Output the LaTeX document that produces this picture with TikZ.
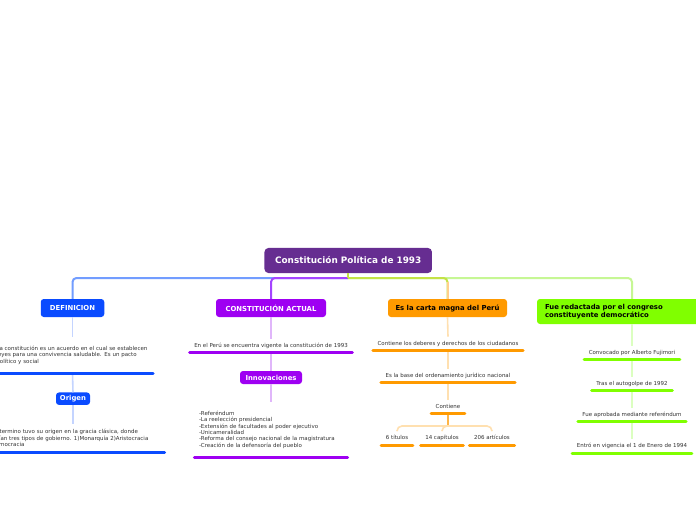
\documentclass[tikz,border=0pt]{standalone}
\usepackage{fontspec}
\setmainfont{DejaVu Sans}
\definecolor{rootc}{HTML}{662D91}
\definecolor{bluec}{HTML}{0A4BFF}
\definecolor{purc}{HTML}{9E00F2}
\definecolor{orc}{HTML}{FF9A00}
\definecolor{grc}{HTML}{80FF00}
\definecolor{blueln}{HTML}{729DFF}
\definecolor{purln}{HTML}{A444FF}
\definecolor{ygln}{HTML}{C4E246}
\definecolor{grln}{HTML}{C6F794}
\definecolor{orln}{HTML}{FFD08C}
\definecolor{bluep}{HTML}{C4D4FF}
\definecolor{purp}{HTML}{E0B6FA}
\definecolor{orp}{HTML}{FFE0B0}
\definecolor{orstem}{HTML}{FFB547}
\definecolor{grp}{HTML}{DBFFC0}
\definecolor{txt}{HTML}{333333}
\tikzset{
  head/.style={rounded corners=3bp, inner sep=0pt, font=\fontsize{6.9}{8}\selectfont\bfseries, text=white},
  leaf/.style={anchor=south, inner xsep=4.5bp, inner ysep=4bp, text height=4.2bp, text depth=1.3bp, font=\fontsize{5.5}{6.5}\selectfont, text=txt},
  para/.style={anchor=south, inner xsep=4.5bp, align=left, font=\fontsize{5.5}{6.5}\selectfont, text=txt},
  ul/.style={line width=3bp, line cap=round},
  conn/.style={line width=2bp},
  pale/.style={line width=1.6bp}
}
\begin{document}
\begin{tikzpicture}[x=1bp,y=-1bp]
\useasboundingbox (0,0) rectangle (696,520);
\clip (0,0) rectangle (696,520);
\fill[white] (0,0) rectangle (696,520);

% root
\node[rounded corners=4bp, fill=rootc, text=white, inner sep=0pt, minimum width=167.5bp, minimum height=25bp, font=\fontsize{8.9}{10}\selectfont\bfseries] (root) at (348.2,260.5) {Constitución Política de 1993};

% main headings
\node[head, fill=bluec, minimum width=63.5bp, minimum height=18bp] (def) at (72.5,308) {DEFINICION};
\node[head, fill=purc, minimum width=110bp, minimum height=18bp] (actual) at (271,308) {CONSTITUCIÓN ACTUAL};
\node[head, fill=orc, text=black, minimum width=119bp, minimum height=18bp] (carta) at (447.5,308) {Es la carta magna del Perú};
\node[head, fill=grc, text=black, text width=174bp, align=left, inner xsep=8bp, minimum height=25bp] (green) at (632,311.5) {Fue redactada por el congreso\\constituyente democrático};

% blue branch
\node[para, text width=152bp, inner ysep=8.7bp] (deftext) at (72.5,373.5) {La constitución es un acuerdo en el cual se establecen\\leyes para una convivencia saludable. Es un pacto\\político y social};
\node[head, fill=bluec, minimum width=34bp, minimum height=12.5bp] (origen) at (73,398.7) {Origen};
\node[para, text width=174bp, inner ysep=4.6bp] (origtext) at (73,452) {Este termino tuvo su origen en la gracia clásica, donde\\existían tres tipos de gobierno. 1)Monarquía 2)Aristocracia\\3)Democracia};

% purple branch
\node[leaf] (peru) at (271,352.5) {En el Perú se encuentra vigente la constitución de 1993};
\node[head, fill=purc, minimum width=62bp, minimum height=13bp] (innov) at (271,377.5) {Innovaciones};
\node[para, text width=144bp, inner ysep=8.2bp] (innovtext) at (271,457) {-Referéndum\\-La reelección presidencial\\-Extensión de facultades al poder ejecutivo\\-Unicameralidad\\-Reforma del consejo nacional de la magistratura\\-Creación de la defensoría del pueblo};

% orange branch
\node[leaf] (c1) at (448,350.5) {Contiene los deberes y derechos de los ciudadanos};
\node[leaf] (c2) at (448,382.5) {Es la base del ordenamiento jurídico nacional};
\node[leaf] (c3) at (448,413.5) {Contiene};
\node[leaf] (t1) at (397,445) {6 títulos};
\node[leaf] (t2) at (442,445) {14 capítulos};
\node[leaf] (t3) at (492,445) {206 artículos};
\coordinate (chub) at (448,426);

% green branch
\node[leaf] (g1) at (632,359.5) {Convocado por Alberto Fujimori};
\node[leaf] (g2) at (632,390.5) {Tras el autogolpe de 1992};
\node[leaf] (g3) at (632,421.5) {Fue aprobada mediante referéndum};
\node[leaf] (g4) at (632,453) {Entró en vigencia el 1 de Enero de 1994};

% main connectors
\coordinate (hub) at (348.2,278);
\draw[conn, blueln, rounded corners=4bp] (hub) -| (def.north);
\draw[conn, purln, rounded corners=4bp] (hub) -| (actual.north);
\draw[conn, grln, rounded corners=4bp] (hub) -| (green.north);
\draw[conn, ygln, rounded corners=4bp] (hub) -| (carta.north);
\draw[conn, orln] (carta.north) -- ++(0,-16.5);
\draw[conn, ygln] (root.south) -- (hub);

% branch connectors
\draw[pale, bluep] (def.south) -- (deftext.north);
\draw[pale, bluep] (deftext.south) -- (origen.north);
\draw[pale, bluep] (origen.south) -- (origtext.north);
\draw[pale, purp] (actual.south) -- (peru.north);
\draw[pale, purp] (peru.south) -- (innov.north);
\draw[pale, purp] (innov.south) -- (innovtext.north);
\draw[pale, orp] (carta.south) -- (c1.north);
\draw[pale, orp] (c1.south) -- (c2.north);
\draw[pale, orp] (c2.south) -- (c3.north);
\draw[pale, orstem] (c3.south) -- (chub);
\draw[pale, orp, rounded corners=5bp] (chub) -| (t1.north);
\draw[pale, orp, rounded corners=5bp] (chub) -| (t2.north);
\draw[pale, orp, rounded corners=5bp] (chub) -| (t3.north);
\draw[pale, grp] (green.south) -- (g1.north);
\draw[pale, grp] (g1.south) -- (g2.north);
\draw[pale, grp] (g2.south) -- (g3.north);
\draw[pale, grp] (g3.south) -- (g4.north);

% underlines
\foreach \n in {deftext,origtext} \draw[ul, bluec] (\n.south west) -- (\n.south east);
\foreach \n in {peru,innovtext} \draw[ul, purc] (\n.south west) -- (\n.south east);
\foreach \n in {c1,c2,c3,t1,t2,t3} \draw[ul, orc] (\n.south west) -- (\n.south east);
\foreach \n in {g1,g2,g3,g4} \draw[ul, grc] (\n.south west) -- (\n.south east);
\end{tikzpicture}
\end{document}
